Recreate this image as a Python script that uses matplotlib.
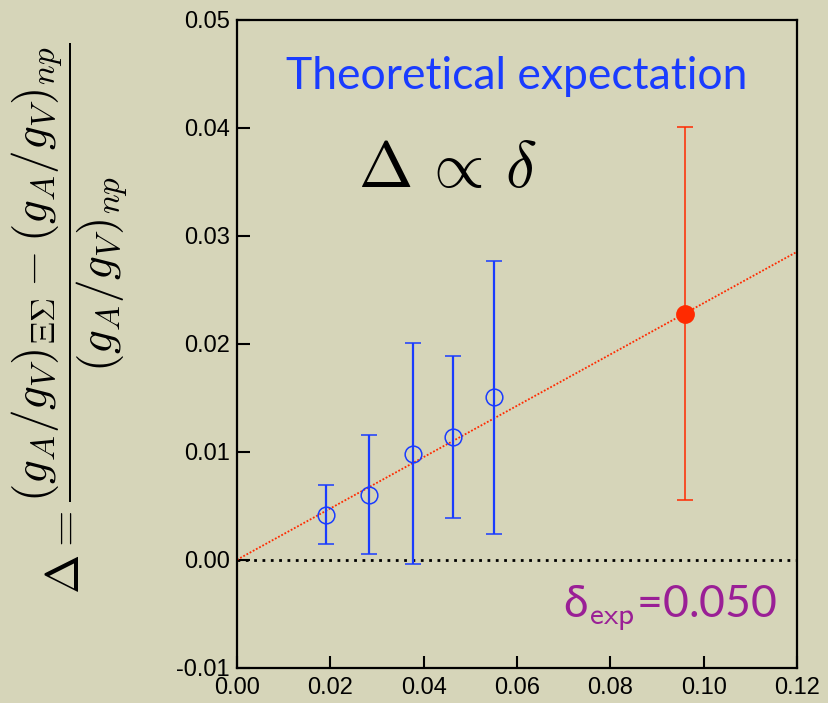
import numpy as np
import matplotlib.pyplot as plt

# lattice points (open blue circles)
delta_blue = [0.0191, 0.0283, 0.0378, 0.0463, 0.0551]
Delta_blue = [0.00415, 0.0060, 0.00983, 0.01137, 0.01505]
err_lo_blue = [0.00144, 0.0005, -0.0004, 0.0039, 0.0024]
err_hi_blue = [0.0069, 0.01156, 0.0201, 0.0189, 0.0277]

# extrapolated point (filled red)
delta_red = [0.0959]
Delta_red = [0.0228]
err_lo_red = [0.0055]
err_hi_red = [0.0401]

# linear expectation through origin
line_x = [0.0, 0.12]
slope = Delta_red[0] / delta_red[0]

x_ticks = [0.00, 0.02, 0.04, 0.06, 0.08, 0.10, 0.12]
y_ticks = [-0.01, 0.00, 0.01, 0.02, 0.03, 0.04, 0.05]

bg = '#d6d5b9'
blue = '#1a3cff'
red = '#ff2a00'
purple = '#9a1f96'

plt.rcParams['mathtext.fontset'] = 'cm'

fig = plt.figure(figsize=(8.29, 7.03), dpi=100, facecolor=bg)
ax = fig.add_axes([0.2859, 0.0502, 0.6755, 0.9214], facecolor=bg)

# y = 0 reference
ax.plot(line_x, [0, 0], color='black', linestyle=(0, (1, 2)), linewidth=2.0, zorder=1)

# theory line
ax.plot(line_x, [slope * x for x in line_x], color=red, linestyle=(0, (1, 1)),
        linewidth=1.3, zorder=2)

yerr_blue = [np.array(Delta_blue) - np.array(err_lo_blue),
             np.array(err_hi_blue) - np.array(Delta_blue)]
ax.errorbar(delta_blue, Delta_blue, yerr=yerr_blue, fmt='o', mfc='none', mec=blue,
            ms=12, mew=1.1, ecolor=blue, elinewidth=1.6, capsize=5.5, capthick=1.6,
            zorder=3)

yerr_red = [np.array(Delta_red) - np.array(err_lo_red),
            np.array(err_hi_red) - np.array(Delta_red)]
ax.errorbar(delta_red, Delta_red, yerr=yerr_red, fmt='o', mfc=red, mec=red,
            ms=12.5, ecolor=red, elinewidth=1.1, capsize=5.5, capthick=1.1, zorder=3)

ax.set_xlim(0, 0.12)
ax.set_ylim(-0.01, 0.05)
ax.set_xticks(x_ticks)
ax.set_yticks(y_ticks)
ax.set_xticklabels([f'{v:.2f}' for v in x_ticks])
ax.set_yticklabels([f'{v:.2f}' for v in y_ticks])
ax.tick_params(direction='in', length=9, width=1.5, labelsize=17,
               top=False, right=False, pad=5)
ax.tick_params(axis='x', pad=6.5)
for lab in ax.get_xticklabels() + ax.get_yticklabels():
    lab.set_family(['Liberation Sans', 'DejaVu Sans'])
for sp in ax.spines.values():
    sp.set_linewidth(1.6)

ax.text(0.5, 0.912, 'Theoretical expectation', transform=ax.transAxes,
        ha='center', va='center', color=blue, fontsize=32, family='Lato')
ax.text(0.375, 0.77, r'$\Delta\,\propto\,\delta$', transform=ax.transAxes,
        ha='center', va='center', color='black', fontsize=47)
ax.text(0.773, 0.092, r'δ$_{\mathsf{exp}}$=0.050', transform=ax.transAxes,
        ha='center', va='center', color=purple, fontsize=32, family='Lato')

fig.text(0.084, 0.547,
         r'$\Delta=\dfrac{(g_A/g_V)_{\Xi\Sigma}-(g_A/g_V)_{np}}{(g_A/g_V)_{np}}$',
         rotation=90, ha='center', va='center', fontsize=34)

fig.savefig('out.png', dpi=100, facecolor=bg)
